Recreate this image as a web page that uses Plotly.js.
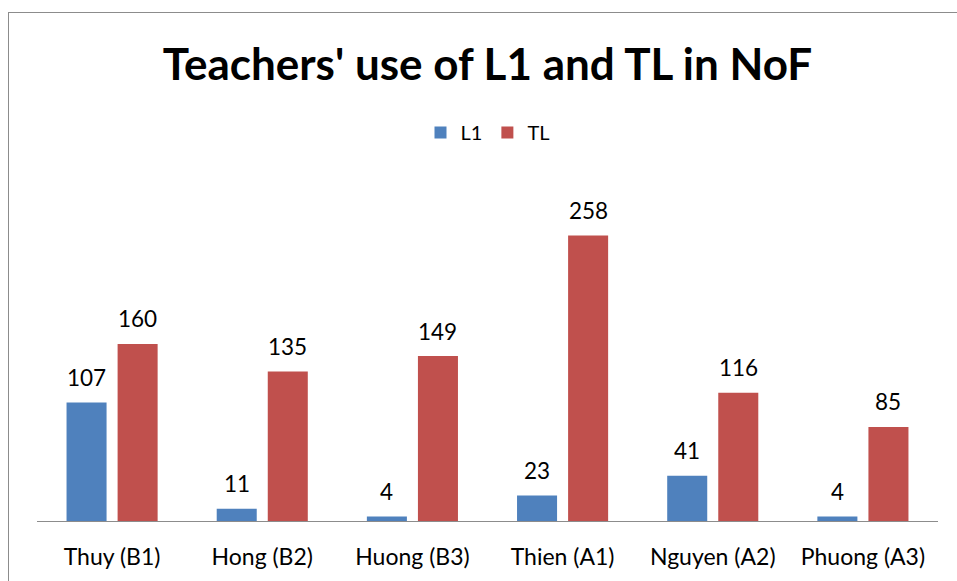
<!DOCTYPE html>
<html>
<head>
<meta charset="utf-8">
<script src="https://cdn.plot.ly/plotly-3.0.1.min.js"></script>
<style>
html,body{margin:0;padding:0;background:#fff;overflow:hidden;}
#frame{position:absolute;left:8px;top:12px;width:1000px;height:700px;border-left:1px solid #8c8c8c;border-top:1px solid #8c8c8c;}
#chart{position:absolute;left:0;top:0;width:957px;height:581px;}
</style>
</head>
<body>
<div id="frame"></div>
<div id="chart"></div>
<script>
const categories = ["Thuy (B1)", "Hong (B2)", "Huong (B3)", "Thien (A1)", "Nguyen (A2)", "Phuong (A3)"];
const seriesNames = ["L1", "TL"];
const l1Values = [107, 11, 4, 23, 41, 4];
const tlValues = [160, 135, 149, 258, 116, 85];

const FONT = "Lato, 'Open Sans', sans-serif";
const colors = ["#4F81BD", "#C0504D"];
const series = [l1Values, tlValues];

const traces = series.map((vals, i) => ({
  type: "bar",
  name: seriesNames[i],
  x: categories,
  y: vals,
  marker: {color: colors[i]},
  hoverinfo: "x+y"
}));

const shifts = [-25.5, 25.5];
const annotations = [];
series.forEach((vals, i) => {
  vals.forEach((v, j) => {
    annotations.push({
      x: categories[j], y: v, xref: "x", yref: "y",
      text: String(v), showarrow: false,
      xshift: shifts[i], yshift: 25,
      font: {family: FONT, size: 22.5, color: "#000"}
    });
  });
});

const layout = {
  width: 957, height: 581,
  paper_bgcolor: "rgba(0,0,0,0)",
  plot_bgcolor: "rgba(0,0,0,0)",
  margin: {l: 37, r: 19, t: 189, b: 60},
  title: {
    text: "<b>Teachers' use of L1 and TL in NoF</b>",
    font: {family: FONT, size: 44, color: "#000"},
    x: 0.5, xanchor: "center", xref: "paper",
    y: 0.888, yref: "container", yanchor: "middle"
  },
  showlegend: true,
  legend: {
    orientation: "h", x: 0.5, xanchor: "center", y: 1.17, yanchor: "middle",
    font: {family: FONT, size: 20, color: "#000"},
    itemwidth: 30, tracegroupgap: 0
  },
  barmode: "group",
  bargap: 0.32,
  bargroupgap: 0.216,
  xaxis: {
    type: "category",
    showline: true, linecolor: "#8c8c8c", linewidth: 1.3,
    ticks: "", showgrid: false, zeroline: false,
    tickfont: {family: FONT, size: 23, color: "#000"},
    ticklabelstandoff: 15
  },
  yaxis: {
    range: [0, 300], visible: false, showgrid: false, zeroline: false
  },
  annotations: annotations
};

Plotly.newPlot("chart", traces, layout, {displayModeBar: false, staticPlot: true});
</script>
</body>
</html>
